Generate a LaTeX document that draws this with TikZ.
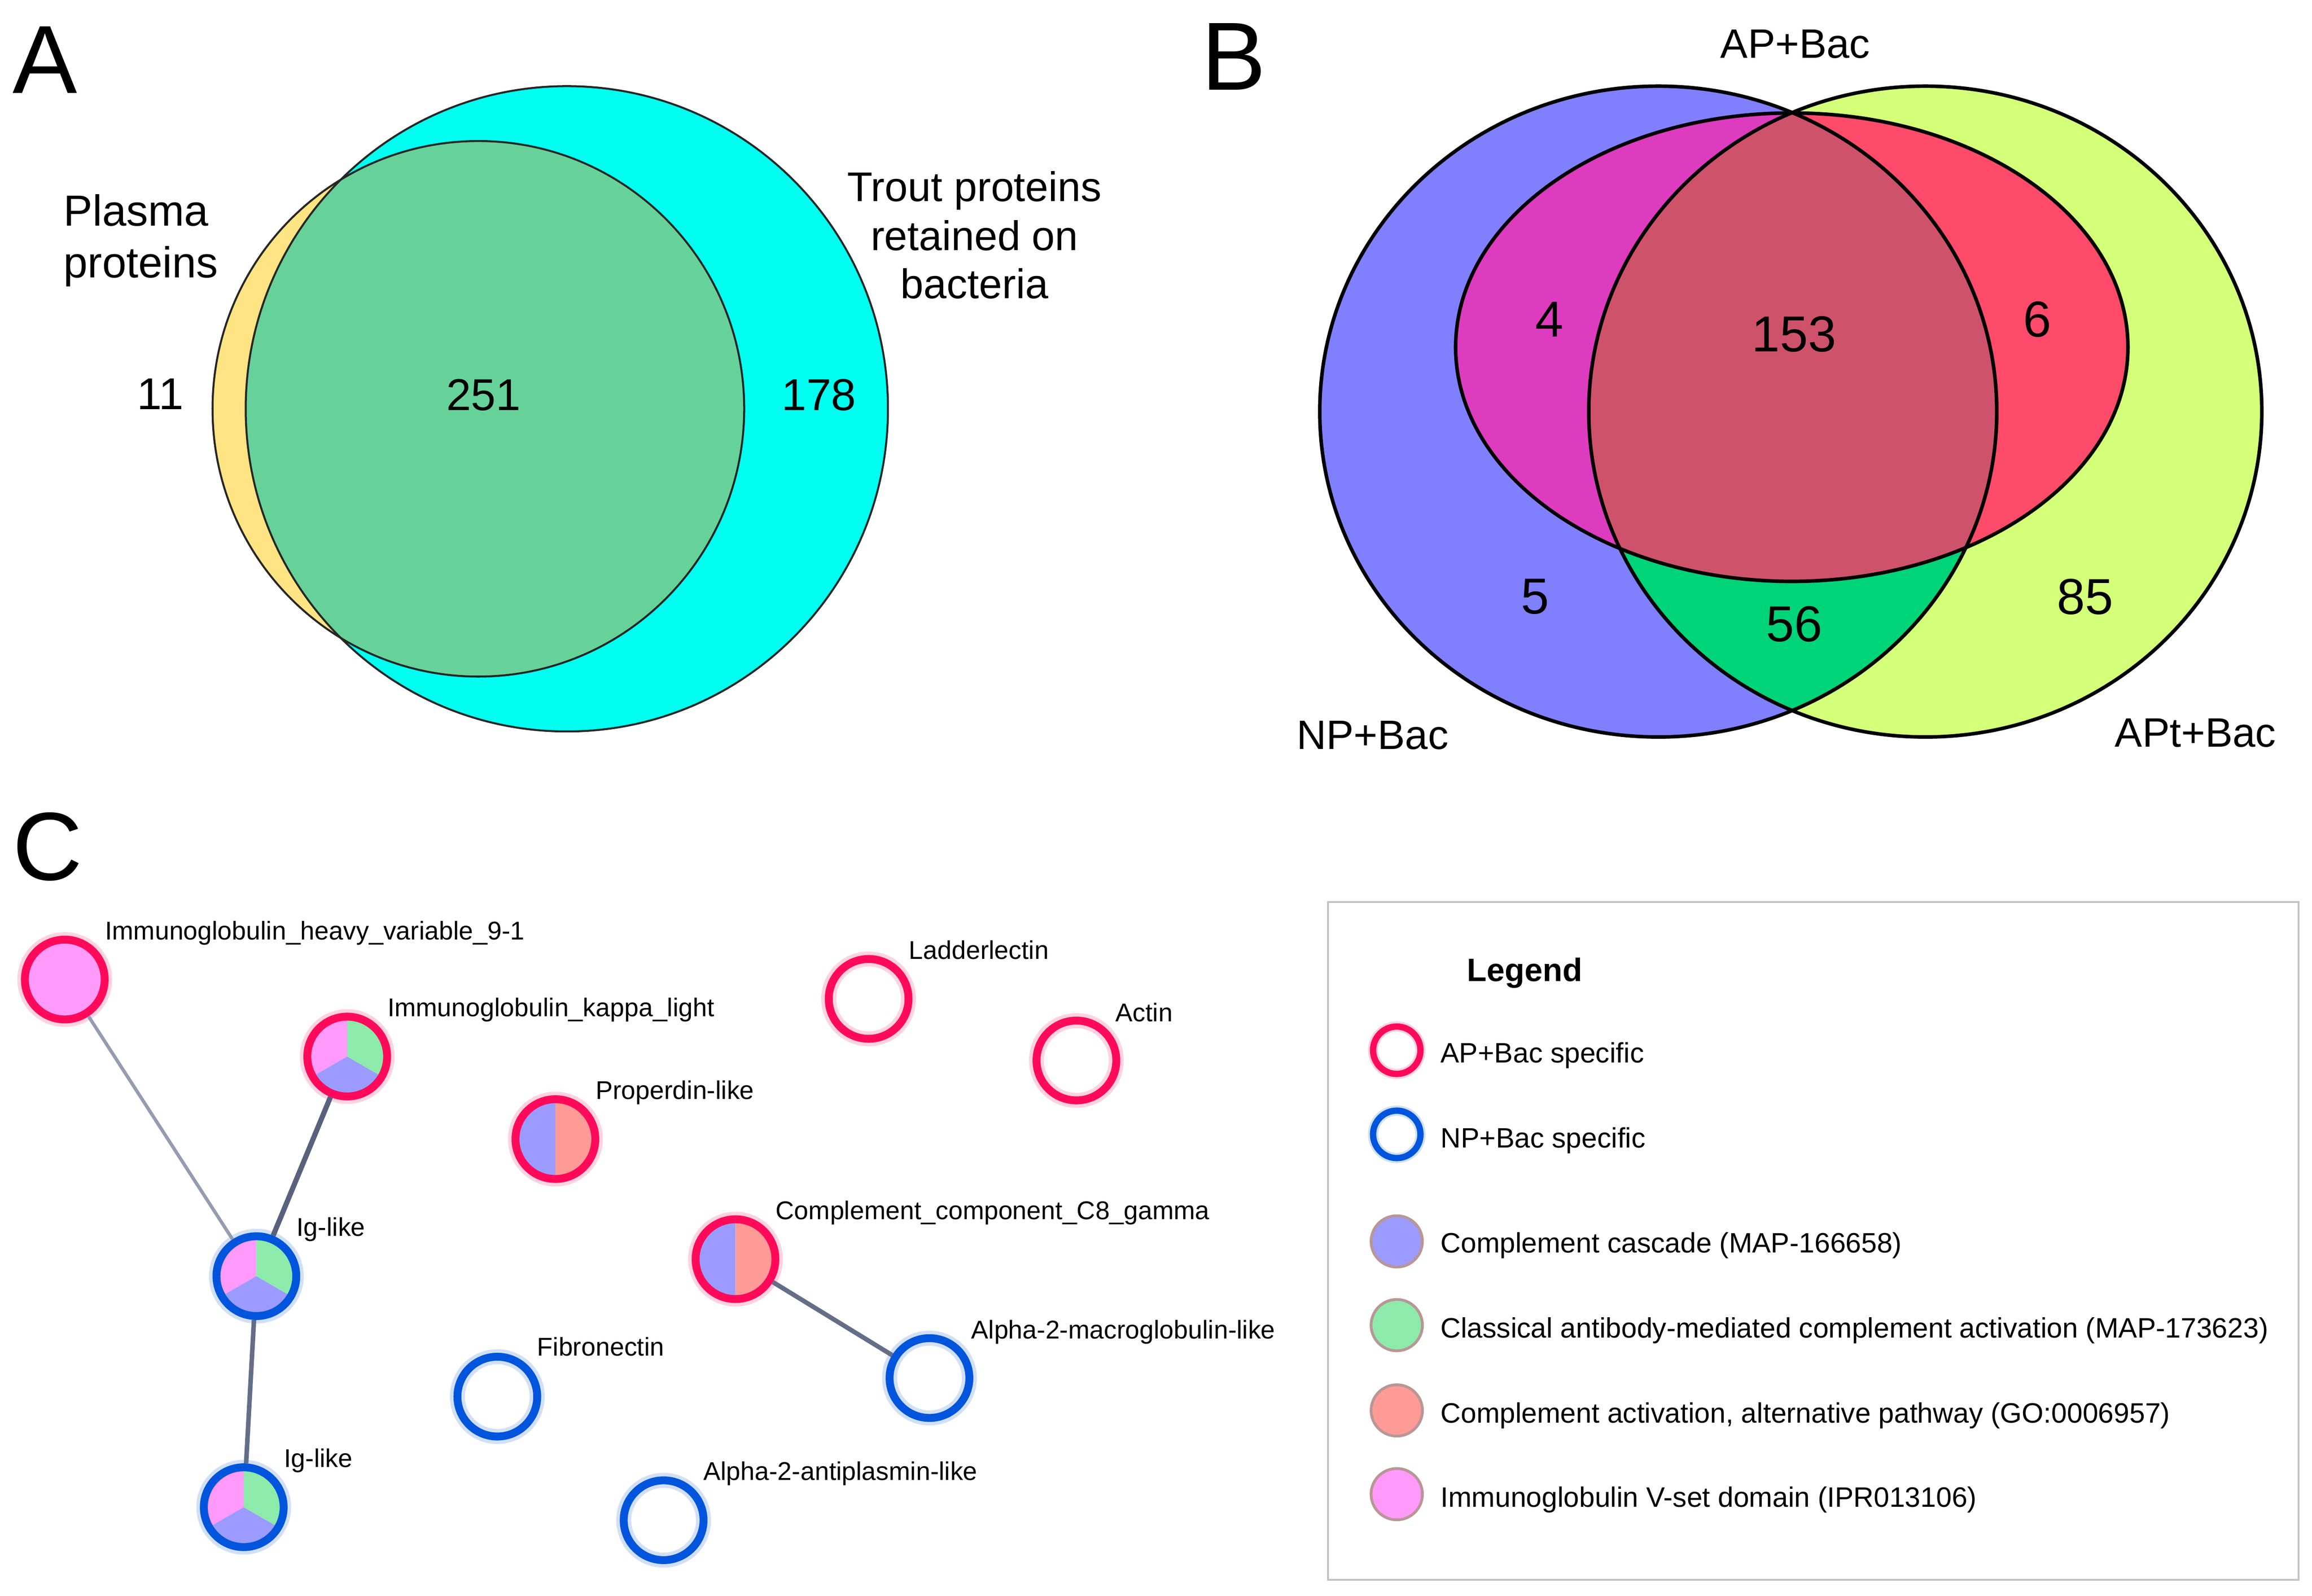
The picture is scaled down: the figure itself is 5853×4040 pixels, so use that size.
\documentclass[tikz,border=0pt]{standalone}
\usepackage{fontspec}
\setmainfont{Liberation Sans}
\usetikzlibrary{calc}
\definecolor{ayellow}{RGB}{254,228,130}
\definecolor{acyan}{RGB}{0,255,240}
\definecolor{agreen}{RGB}{102,210,153}
\definecolor{bnp}{RGB}{128,128,255}
\definecolor{bapt}{RGB}{212,255,120}
\definecolor{bred}{RGB}{255,75,106}
\definecolor{bmag}{RGB}{222,60,190}
\definecolor{bdusk}{RGB}{206,83,106}
\definecolor{bgreen}{RGB}{0,212,120}
\definecolor{ringred}{RGB}{255,10,90}
\definecolor{ringblue}{RGB}{0,85,220}
\definecolor{cvset}{RGB}{255,153,250}
\definecolor{ccasc}{RGB}{155,155,255}
\definecolor{cclass}{RGB}{140,235,170}
\definecolor{calt}{RGB}{255,155,150}
\definecolor{legborder}{RGB}{185,150,150}
\definecolor{boxgray}{RGB}{195,195,195}
\newcommand{\tripie}[1]{%
  \fill[cvset] (#1) -- ++(90:9.4pt) arc[start angle=90,delta angle=120,radius=9.4pt] -- cycle;
  \fill[ccasc] (#1) -- ++(210:9.4pt) arc[start angle=210,delta angle=120,radius=9.4pt] -- cycle;
  \fill[cclass] (#1) -- ++(330:9.4pt) arc[start angle=330,delta angle=120,radius=9.4pt] -- cycle;}
\newcommand{\halfpie}[1]{%
  \fill[ccasc] (#1) -- ++(90:9.4pt) arc[start angle=90,delta angle=180,radius=9.4pt] -- cycle;
  \fill[calt] (#1) -- ++(270:9.4pt) arc[start angle=270,delta angle=180,radius=9.4pt] -- cycle;}
\begin{document}
\begin{tikzpicture}[x=0.1pt,y=-0.1pt,
  panel/.style={font=\fontsize{24.5}{28}\selectfont, inner sep=0, anchor=base west},
  alab/.style={font=\fontsize{11}{13}\selectfont, inner sep=0},
  tlab/.style={font=\fontsize{10.5}{12.5}\selectfont, inner sep=0, anchor=base},
  blab/.style={font=\fontsize{10.4}{12.5}\selectfont, inner sep=0, anchor=base},
  anum/.style={font=\fontsize{11.3}{13}\selectfont, inner sep=0},
  bnum/.style={font=\fontsize{12.8}{15}\selectfont, inner sep=0},
  netlab/.style={font=\fontsize{6.5}{8}\selectfont, inner sep=0, anchor=base west},
  legtxt/.style={font=\fontsize{7.1}{8.5}\selectfont, inner sep=0, anchor=base west},
  apnode/.style={circle, draw=ringred, line width=2pt, minimum size=20.2pt, inner sep=0},
  npnode/.style={circle, draw=ringblue, line width=2pt, minimum size=20.2pt, inner sep=0},
  halo/.style={line width=3.8pt, opacity=0.18},
  vennA/.style={draw=black!85, line width=0.5pt},
  vennB/.style={draw=black, line width=0.9pt},
  ethin/.style={draw={rgb,255:red,148;green,156;blue,176}, line width=0.85pt},
  ethick/.style={draw={rgb,255:red,88;green,98;blue,124}, line width=1.3pt},
  emid/.style={draw={rgb,255:red,100;green,110;blue,136}, line width=1.15pt},
  legring/.style={circle, line width=1.6pt, minimum size=12pt, inner sep=0},
  legfill/.style={circle, draw=legborder, line width=0.7pt, minimum size=13pt, inner sep=0}
]
\useasboundingbox (0,0) rectangle (5853,4040);
\fill[white] (0,0) rectangle (5853,4040);

% ---------------- Panel A ----------------
\node[panel] (labA) at (30,236) {A};
\fill[acyan] (1435,1035) ellipse [x radius=81.3pt, y radius=81.7pt];
\fill[ayellow] (1211,1035) ellipse [x radius=67.3pt, y radius=67.8pt];
\begin{scope}
  \clip (1435,1035) ellipse [x radius=81.3pt, y radius=81.7pt];
  \fill[agreen] (1211,1035) ellipse [x radius=67.3pt, y radius=67.8pt];
\end{scope}
\draw[vennA] (1435,1035) ellipse [x radius=81.3pt, y radius=81.7pt];
\draw[vennA] (1211,1035) ellipse [x radius=67.3pt, y radius=67.8pt];
\node[alab, anchor=base west] (plasma1) at (159,572) {Plasma};
\node[alab, anchor=base west] (plasma2) at (159,703) {proteins};
\node[tlab] (trout1) at (2467,510) {Trout proteins};
\node[tlab] (trout2) at (2467,634) {retained on};
\node[tlab] (trout3) at (2467,756) {bacteria};
\node[anum] (n11) at (406,998) {11};
\node[anum] (n251) at (1224,1000) {251};
\node[anum] (n178) at (2073,1000) {178};

% ---------------- Panel B ----------------
\node[panel] (labB) at (3040,228) {B};
\fill[bnp] (4198,1042) ellipse [x radius=85.7pt, y radius=82.4pt];
\fill[bapt] (4874,1042) ellipse [x radius=85.2pt, y radius=82.4pt];
\begin{scope}
  \clip (4198,1042) ellipse [x radius=85.7pt, y radius=82.4pt];
  \fill[bgreen] (4874,1042) ellipse [x radius=85.2pt, y radius=82.4pt];
\end{scope}
\fill[bred] (4536,879) ellipse [x radius=85.1pt, y radius=59.3pt];
\begin{scope}
  \clip (4198,1042) ellipse [x radius=85.7pt, y radius=82.4pt];
  \fill[bmag] (4536,879) ellipse [x radius=85.1pt, y radius=59.3pt];
  \clip (4874,1042) ellipse [x radius=85.2pt, y radius=82.4pt];
  \fill[bdusk] (4536,879) ellipse [x radius=85.1pt, y radius=59.3pt];
\end{scope}
\draw[vennB] (4198,1042) ellipse [x radius=85.7pt, y radius=82.4pt];
\draw[vennB] (4874,1042) ellipse [x radius=85.2pt, y radius=82.4pt];
\draw[vennB] (4536,879) ellipse [x radius=85.1pt, y radius=59.3pt];
\node[blab] (apbac) at (4545,147) {AP+Bac};
\node[blab] (npbac) at (3475,1897) {NP+Bac};
\node[blab] (aptbac) at (5558,1891) {APt+Bac};
\node[bnum] (b4) at (3923,809) {4};
\node[bnum] (b153) at (4542,846) {153};
\node[bnum] (b6) at (5157,809) {6};
\node[bnum] (b5) at (3886,1511) {5};
\node[bnum] (b56) at (4542,1580) {56};
\node[bnum] (b85) at (5279,1511) {85};

% ---------------- Panel C ----------------
\node[panel] (labC) at (30,2228) {C};
\coordinate (p1) at (164,2480);
\coordinate (p2) at (879,2675);
\coordinate (p3) at (649,3231);
\coordinate (p4) at (617,3816);
\coordinate (p5) at (1406,2884);
\coordinate (p6) at (1862,3188);
\coordinate (p7) at (2199,2529);
\coordinate (p8) at (2725,2685);
\coordinate (p9) at (2353,3489);
\coordinate (p10) at (1259,3536);
\coordinate (p11) at (1680,3849);

% halos
\foreach \p in {p1,p2,p5,p6,p7,p8} \draw[ringred, halo] (\p) circle [radius=10.1pt];
\foreach \p in {p3,p4,p9,p10,p11} \draw[ringblue, halo] (\p) circle [radius=10.1pt];

% pie fills
\fill[cvset] (p1) circle [radius=9.4pt];
\tripie{p2}
\tripie{p3}
\tripie{p4}
\halfpie{p5}
\halfpie{p6}

% nodes
\node[apnode] (igh) at (p1) {};
\node[apnode] (igk) at (p2) {};
\node[npnode] (ig1) at (p3) {};
\node[npnode] (ig2) at (p4) {};
\node[apnode] (prop) at (p5) {};
\node[apnode] (c8g) at (p6) {};
\node[apnode] (ladd) at (p7) {};
\node[apnode] (actin) at (p8) {};
\node[npnode] (a2m) at (p9) {};
\node[npnode] (fibro) at (p10) {};
\node[npnode] (a2ap) at (p11) {};

% edges
\draw[ethin] (igh) -- (ig1);
\draw[ethick] (igk) -- (ig1);
\draw[emid] (ig1) -- (ig2);
\draw[emid] (c8g) -- (a2m);

% labels
\node[netlab] (l1) at ($(p1)+(100,-101)$) {Immunoglobulin\_heavy\_variable\_9-1};
\node[netlab] (l2) at ($(p2)+(100,-101)$) {Immunoglobulin\_kappa\_light};
\node[netlab] (l3) at ($(p3)+(100,-101)$) {Ig-like};
\node[netlab] (l4) at ($(p4)+(100,-101)$) {Ig-like};
\node[netlab] (l5) at ($(p5)+(100,-101)$) {Properdin-like};
\node[netlab] (l6) at ($(p6)+(100,-101)$) {Complement\_component\_C8\_gamma};
\node[netlab] (l7) at ($(p7)+(100,-101)$) {Ladderlectin};
\node[netlab] (l8) at ($(p8)+(97,-99)$) {Actin};
\node[netlab] (l9) at ($(p9)+(104,-100)$) {Alpha-2-macroglobulin-like};
\node[netlab] (l10) at ($(p10)+(99,-103)$) {Fibronectin};
\node[netlab] (l11) at ($(p11)+(99,-101)$) {Alpha-2-antiplasmin-like};

% ---------------- Legend ----------------
\draw[boxgray, line width=0.5pt] (3362,2284) rectangle (5819,4000);
\node[font=\bfseries\fontsize{8.2}{10}\selectfont, inner sep=0, anchor=base west] (legtitle) at (3712,2484) {Legend};
\draw[ringred, halo, line width=2.6pt] (3536,2659) circle [radius=6pt];
\draw[ringblue, halo, line width=2.6pt] (3536,2872) circle [radius=6pt];
\node[legring, draw=ringred] (k1) at (3536,2659) {};
\node[legring, draw=ringblue] (k2) at (3536,2872) {};
\node[legfill, fill=ccasc] (k3) at (3536,3143) {};
\node[legfill, fill=cclass] (k4) at (3536,3355) {};
\node[legfill, fill=calt] (k5) at (3536,3571) {};
\node[legfill, fill=cvset] (k6) at (3536,3783) {};
\node[legtxt] (t1) at (3645,2690) {AP+Bac specific};
\node[legtxt] (t2) at (3645,2906) {NP+Bac specific};
\node[legtxt] (t3) at (3645,3172) {Complement cascade (MAP-166658)};
\node[legtxt] (t4) at (3645,3387) {Classical antibody-mediated complement activation (MAP-173623)};
\node[legtxt] (t5) at (3645,3603) {Complement activation, alternative pathway (GO:0006957)};
\node[legtxt] (t6) at (3645,3816) {Immunoglobulin V-set domain (IPR013106)};
\end{tikzpicture}
\end{document}
